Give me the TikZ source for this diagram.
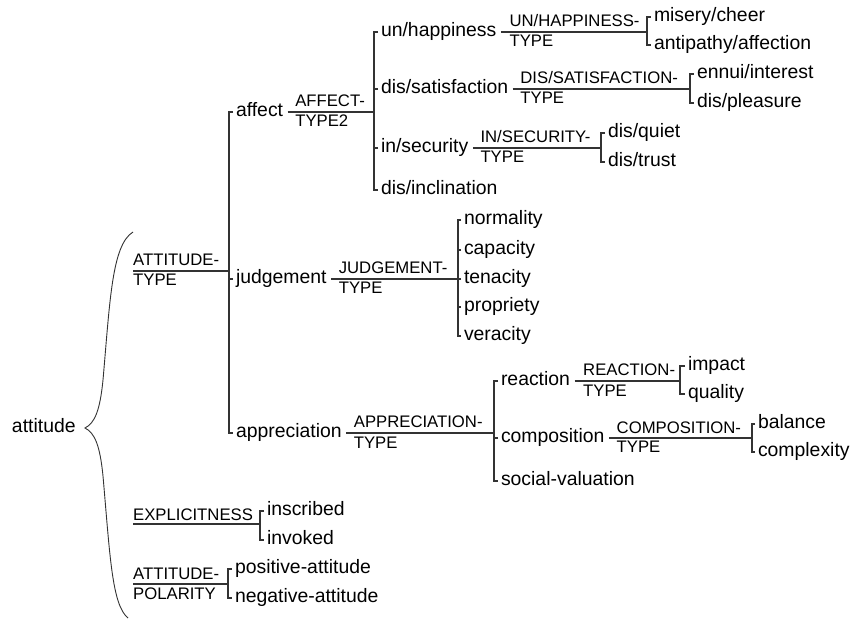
\documentclass[tikz,border=0pt]{standalone}
\usepackage{fontspec}
\setmainfont{Liberation Sans}
\usetikzlibrary{calc}
\tikzset{
  term/.style={anchor=west, inner xsep=0pt, inner ysep=0pt, outer xsep=3pt, outer ysep=0pt,
    text height=12.9pt, text depth=4pt, font=\fontsize{19.4}{23}\selectfont},
  lab/.style={anchor=base west, inner sep=0pt, font=\fontsize{16.7}{20}\selectfont},
  net/.style={draw=black!80, line width=1.1pt},
}
\begin{document}
\begin{tikzpicture}[x=1pt,y=-1pt]
\useasboundingbox (0,0) rectangle (852,620);
% root and brace
\node[term] (attitude) at (9,428) {attitude};
\coordinate (braceTop) at (133,232);
\coordinate (braceTip) at (85,428);
\coordinate (braceBot) at (128,618);
\draw[net, line width=0.9pt] (braceTop) .. controls (112,245) and (110,300) .. (103,380)
  .. controls (100,410) and (95,423) .. (braceTip)
  .. controls (95,433) and (100,446) .. (103,476)
  .. controls (110,556) and (112,605) .. (braceBot);
% ATTITUDE-TYPE
\coordinate (sAT) at (133,271);
\coordinate (bAT) at (229,271);
\node[lab] (lAT1) at ($(sAT)+(0,-5)$) {ATTITUDE-};
\node[lab] (lAT2) at ($(sAT)+(0,15)$) {TYPE};
\node[term] (affect) at (233,112) {affect};
\node[term] (judgement) at (233,279) {judgement};
\node[term] (appreciation) at (233,433) {appreciation};
\draw[net] (sAT) -- (bAT);
\draw[net] (affect.west) -| (bAT) |- (appreciation.west);
\draw[net] (judgement.west) -- (judgement.west -| bAT);
% AFFECT-TYPE2
\coordinate (bAF) at (374,112);
\node[lab] (lAF1) at ($(affect.east)+(9,-5)$) {AFFECT-};
\node[lab] (lAF2) at ($(affect.east)+(9,15)$) {TYPE2};
\node[term] (unhap) at (378,32) {un/happiness};
\node[term] (dissat) at (378,89) {dis/satisfaction};
\node[term] (insec) at (378,148) {in/security};
\node[term] (disincl) at (378,190) {dis/inclination};
\draw[net, shorten <=1.5pt] (affect.east) -- (bAF);
\draw[net] (unhap.west) -| (bAF) |- (disincl.west);
\draw[net] (dissat.west) -- (dissat.west -| bAF);
\draw[net] (insec.west) -- (insec.west -| bAF);
% UN/HAPPINESS-TYPE
\coordinate (bUH) at (647,32);
\node[lab] (lUH1) at ($(unhap.east)+(10,-5)$) {UN/HAPPINESS-};
\node[lab] (lUH2) at ($(unhap.east)+(10,15)$) {TYPE};
\node[term] (misery) at (651,17) {misery/cheer};
\node[term] (antip) at (651,45) {antipathy/affection};
\draw[net, shorten <=1.5pt] (unhap.east) -- (bUH);
\draw[net] (misery.west) -| (bUH) |- (antip.west);
% DIS/SATISFACTION-TYPE
\coordinate (bDS) at (690,89);
\node[lab] (lDS1) at ($(dissat.east)+(9,-5)$) {DIS/SATISFACTION-};
\node[lab] (lDS2) at ($(dissat.east)+(9,15)$) {TYPE};
\node[term] (ennui) at (694,74) {ennui/interest};
\node[term] (displeas) at (694,103) {dis/pleasure};
\draw[net, shorten <=1.5pt] (dissat.east) -- (bDS);
\draw[net] (ennui.west) -| (bDS) |- (displeas.west);
% IN/SECURITY-TYPE
\coordinate (bIS) at (601,148);
\node[lab] (lIS1) at ($(insec.east)+(9,-5)$) {IN/SECURITY-};
\node[lab] (lIS2) at ($(insec.east)+(9,15)$) {TYPE};
\node[term] (disquiet) at (605,133) {dis/quiet};
\node[term] (distrust) at (605,162) {dis/trust};
\draw[net, shorten <=1.5pt] (insec.east) -- (bIS);
\draw[net] (disquiet.west) -| (bIS) |- (distrust.west);
% JUDGEMENT-TYPE
\coordinate (bJU) at (458,279);
\node[lab] (lJU1) at ($(judgement.east)+(9,-5)$) {JUDGEMENT-};
\node[lab] (lJU2) at ($(judgement.east)+(9,15)$) {TYPE};
\node[term] (normality) at (461,220) {normality};
\node[term] (capacity) at (461,250) {capacity};
\node[term] (tenacity) at (461,279) {tenacity};
\node[term] (propriety) at (461,307) {propriety};
\node[term] (veracity) at (461,336) {veracity};
\draw[net, shorten <=1.5pt] (judgement.east) -- (bJU);
\draw[net] (normality.west) -| (bJU) |- (veracity.west);
\draw[net] (capacity.west) -- (capacity.west -| bJU);
\draw[net] (tenacity.west) -- (tenacity.west -| bJU);
\draw[net] (propriety.west) -- (propriety.west -| bJU);
% APPRECIATION-TYPE
\coordinate (bAP) at (494,433);
\node[lab] (lAP1) at ($(appreciation.east)+(9,-5)$) {APPRECIATION-};
\node[lab] (lAP2) at ($(appreciation.east)+(9,15)$) {TYPE};
\node[term] (reaction) at (498,381) {reaction};
\node[term] (composition) at (498,438) {composition};
\node[term] (social) at (498,481) {social-valuation};
\draw[net, shorten <=1.5pt] (appreciation.east) -- (bAP);
\draw[net] (reaction.west) -| (bAP) |- (social.west);
\draw[net] (composition.west) -- (composition.west -| bAP);
% REACTION-TYPE
\coordinate (bRE) at (680,381);
\node[lab] (lRE1) at ($(reaction.east)+(10,-5)$) {REACTION-};
\node[lab] (lRE2) at ($(reaction.east)+(10,15)$) {TYPE};
\node[term] (impact) at (685,366) {impact};
\node[term] (quality) at (685,394) {quality};
\draw[net, shorten <=1.5pt] (reaction.east) -- (bRE);
\draw[net] (impact.west) -| (bRE) |- (quality.west);
% COMPOSITION-TYPE
\coordinate (bCO) at (752,438);
\node[lab] (lCO1) at ($(composition.east)+(9,-5)$) {COMPOSITION-};
\node[lab] (lCO2) at ($(composition.east)+(9,15)$) {TYPE};
\node[term] (balance) at (755,424) {balance};
\node[term] (complexity) at (755,452) {complexity};
\draw[net, shorten <=1.5pt] (composition.east) -- (bCO);
\draw[net] (balance.west) -| (bCO) |- (complexity.west);
% EXPLICITNESS
\coordinate (sEX) at (133,524);
\coordinate (bEX) at (260,524);
\node[lab] (lEX) at ($(sEX)+(0,-4)$) {EXPLICITNESS};
\node[term] (inscribed) at (264,511) {inscribed};
\node[term] (invoked) at (264,540) {invoked};
\draw[net] (sEX) -- (bEX);
\draw[net] (inscribed.west) -| (bEX) |- (invoked.west);
% ATTITUDE-POLARITY
\coordinate (sPO) at (133,584);
\coordinate (bPO) at (228,584);
\node[lab] (lPO1) at ($(sPO)+(0,-5)$) {ATTITUDE-};
\node[lab] (lPO2) at ($(sPO)+(0,15)$) {POLARITY};
\node[term] (positive) at (232,569) {positive-attitude};
\node[term] (negative) at (232,598) {negative-attitude};
\draw[net] (sPO) -- (bPO);
\draw[net] (positive.west) -| (bPO) |- (negative.west);
\end{tikzpicture}
\end{document}
